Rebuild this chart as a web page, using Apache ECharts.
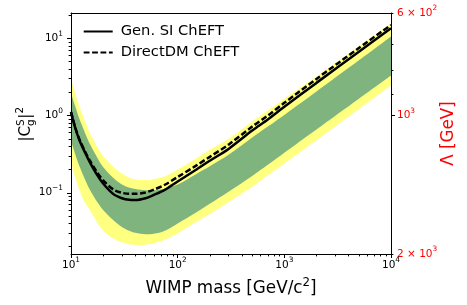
<!DOCTYPE html>
<html><head><meta charset="utf-8">
<script src="https://cdn.jsdelivr.net/npm/echarts@6/dist/echarts.min.js"></script>
<style>html,body{margin:0;padding:0;background:#fff}#c{width:467px;height:305px}</style>
</head><body><div id="c"></div>
<script>
// ---- data ----
const massGeV      = [10, 11, 12, 13.5, 15, 17.5, 20, 25, 30, 35, 40, 50, 60, 75, 100, 150, 200, 300, 500, 700, 1000, 2000, 5000, 10000];
const genSI        = [1.1, 0.68, 0.48, 0.335, 0.25, 0.172, 0.132, 0.096, 0.085, 0.081, 0.0805, 0.085, 0.094, 0.108, 0.14, 0.2, 0.26, 0.37, 0.64, 0.89, 1.3, 2.65, 6.7, 13.5];
const directDM     = [1.12, 0.69, 0.49, 0.345, 0.262, 0.185, 0.145, 0.11, 0.1, 0.097, 0.097, 0.101, 0.11, 0.126, 0.16, 0.226, 0.292, 0.42, 0.72, 1.0, 1.46, 2.98, 7.5, 14.9];
const yellowTop    = [3.0, 1.9, 1.3, 0.85, 0.6, 0.4, 0.3, 0.215, 0.178, 0.158, 0.148, 0.146, 0.15, 0.162, 0.2, 0.28, 0.36, 0.5, 0.84, 1.16, 1.65, 3.2, 7.9, 15.6];
const greenTop     = [1.95, 1.3, 0.9, 0.6, 0.43, 0.29, 0.215, 0.155, 0.128, 0.117, 0.112, 0.108, 0.108, 0.113, 0.128, 0.175, 0.22, 0.31, 0.52, 0.72, 1.02, 2.05, 5.2, 10.6];
const greenBottom  = [0.47, 0.31, 0.22, 0.15, 0.11, 0.077, 0.06, 0.044, 0.036, 0.0322, 0.0303, 0.029, 0.0295, 0.032, 0.04, 0.056, 0.072, 0.103, 0.165, 0.23, 0.33, 0.66, 1.65, 3.3];
const yellowBottom = [0.25, 0.155, 0.108, 0.074, 0.06, 0.042, 0.032, 0.0255, 0.0228, 0.0215, 0.0211, 0.0212, 0.0222, 0.0245, 0.03, 0.042, 0.053, 0.076, 0.12, 0.168, 0.24, 0.48, 1.22, 2.46];

const xMajorTicks = [10, 100, 1000, 10000];
const xMinorTicks = [20,30,40,50,60,70,80,90,200,300,400,500,600,700,800,900,2000,3000,4000,5000,6000,7000,8000,9000];
const yMajorTicks = [0.1, 1, 10];
const yMinorTicks = [0.02,0.03,0.04,0.05,0.06,0.07,0.08,0.09,0.2,0.3,0.4,0.5,0.6,0.7,0.8,0.9,2,3,4,5,6,7,8,9,20];
const lambdaMajorTicks = [1000];
const lambdaMinorTicks = [600, 700, 800, 900, 2000];
const lambdaLabels = [600, 1000, 2000];

const xRange = [10, 10000];
const yRange = [0.0161, 21.3];
const lambdaRange = [600, 2000];

// ---- chart ----
const FONT = 'DejaVu Sans';
const lg = Math.log10;
const pts = arr => massGeV.map((m, i) => [lg(m), lg(arr[i])]);
const sup = (c) => ({ sup: { fontSize: 7.4, fontFamily: FONT, color: c, padding: [0, 0, 9, 0] } });
const tickStyle = { color: '#000', width: 1 };
const pow = v => { const e = Math.round(v); return '10{sup|' + (e < 0 ? '\u2212' + (-e) : e) + '}'; };

function hiddenAxis(extra) {
  return Object.assign({
    type: 'value', axisLine: { show: false, onZero: false }, axisLabel: { show: false },
    axisTick: { show: false }, splitLine: { show: false }, offset: 0
  }, extra);
}
function fillSeries(name, arr, color) {
  return { type: 'line', name: name, data: pts(arr), symbol: 'none', smooth: 0.3, silent: true,
           lineStyle: { width: 0, opacity: 0 }, areaStyle: { color: color, opacity: 1, origin: 'start' } };
}

const chart = echarts.init(document.getElementById('c'), null, { renderer: 'canvas' });
chart.setOption({
  animation: false,
  backgroundColor: '#fff',
  grid: { left: 71, top: 13, right: 76, bottom: 51, containLabel: false, outerBoundsMode: 'none' },
  xAxis: [
    { type: 'value', min: lg(xRange[0]), max: lg(xRange[1]), position: 'bottom', offset: 0,
      axisLine: { show: true, onZero: false, lineStyle: tickStyle },
      axisTick: { show: true, inside: false, length: 4, lineStyle: tickStyle, customValues: xMajorTicks.map(lg) },
      axisLabel: { show: true, customValues: xMajorTicks.map(lg), formatter: pow, margin: 3,
                   color: '#000', fontSize: 10.5, fontFamily: FONT, rich: sup('#000') },
      splitLine: { show: false }, z: 10 },
    hiddenAxis({ min: lg(xRange[0]), max: lg(xRange[1]), position: 'bottom',
      axisTick: { show: true, inside: false, length: 2.4, lineStyle: tickStyle, customValues: xMinorTicks.map(lg) } }),
    hiddenAxis({ min: lg(xRange[0]), max: lg(xRange[1]), position: 'top', z: 10,
      axisLine: { show: true, onZero: false, lineStyle: tickStyle } })
  ],
  yAxis: [
    { type: 'value', min: lg(yRange[0]), max: lg(yRange[1]), position: 'left', offset: 0,
      axisLine: { show: true, onZero: false, lineStyle: tickStyle },
      axisTick: { show: true, inside: false, length: 4, lineStyle: tickStyle, customValues: yMajorTicks.map(lg) },
      axisLabel: { show: true, customValues: yMajorTicks.map(lg), formatter: pow, margin: 8,
                   color: '#000', fontSize: 10.5, fontFamily: FONT, rich: sup('#000') },
      splitLine: { show: false }, z: 10 },
    hiddenAxis({ min: lg(yRange[0]), max: lg(yRange[1]), position: 'left',
      axisTick: { show: true, inside: false, length: 2.4, lineStyle: tickStyle, customValues: yMinorTicks.map(lg) } }),
    { type: 'value', min: lg(lambdaRange[0]), max: lg(lambdaRange[1]), inverse: true, position: 'right', offset: 0,
      axisLine: { show: true, onZero: false, lineStyle: tickStyle },
      axisTick: { show: true, inside: false, length: 4, lineStyle: tickStyle, customValues: lambdaMajorTicks.map(lg) },
      axisLabel: { show: true, customValues: lambdaLabels.map(lg), margin: 6,
                   formatter: v => { const n = Math.round(Math.pow(10, v)); const e = Math.floor(lg(n) + 1e-9);
                     const m = Math.round(n / Math.pow(10, e)); return (m === 1 ? '' : m + ' \u00d7 ') + '10{sup|' + e + '}'; },
                   color: '#ff0000', fontSize: 10.5, fontFamily: FONT, rich: sup('#ff0000') },
      splitLine: { show: false }, z: 10 },
    hiddenAxis({ min: lg(lambdaRange[0]), max: lg(lambdaRange[1]), inverse: true, position: 'right',
      axisTick: { show: true, inside: false, length: 2.4, lineStyle: tickStyle, customValues: lambdaMinorTicks.map(lg) } })
  ],
  legend: {
    orient: 'vertical', left: 82.7, top: 24, padding: 0, itemWidth: 29, itemHeight: 14, itemGap: 6,
    data: ['Gen. SI ChEFT', 'DirectDM ChEFT'],
    itemStyle: { opacity: 0 },
    textStyle: { fontSize: 14.7, fontFamily: FONT, color: '#000', padding: [0, 0, 0, 3] },
    selectedMode: false
  },
  series: [
    fillSeries('yellowTop', yellowTop, '#ffff80'),
    fillSeries('greenTop', greenTop, '#7fb47f'),
    fillSeries('greenBottom', greenBottom, '#ffff80'),
    fillSeries('yellowBottom', yellowBottom, '#ffffff'),
    { type: 'line', name: 'Gen. SI ChEFT', data: pts(genSI), symbol: 'none', smooth: 0.3,
      lineStyle: { color: '#000', width: 2.5 }, itemStyle: { color: '#000' } },
    { type: 'line', name: 'DirectDM ChEFT', data: pts(directDM), symbol: 'none', smooth: 0.3,
      lineStyle: { color: '#000', width: 2.5, type: [5.8, 2.6] }, itemStyle: { color: '#000' } }
  ],
  graphic: [
    { type: 'group', x: 26, y: 124, rotation: Math.PI / 2, children: [
      { type: 'text', x: -17.5, y: 0, style: { text: '|C', fill: '#000', fontSize: 15, fontFamily: FONT, align: 'left', verticalAlign: 'middle' } },
      { type: 'text', x: -2, y: -5, style: { text: 'S', fill: '#000', fontSize: 10.5, fontFamily: FONT, align: 'left', verticalAlign: 'middle' } },
      { type: 'text', x: -2, y: 5, style: { text: 'g', fill: '#000', fontSize: 10.5, fontFamily: FONT, align: 'left', verticalAlign: 'middle' } },
      { type: 'text', x: 5.2, y: 0, style: { text: '|', fill: '#000', fontSize: 15, fontFamily: FONT, align: 'left', verticalAlign: 'middle' } },
      { type: 'text', x: 10.5, y: -6, style: { text: '2', fill: '#000', fontSize: 10.5, fontFamily: FONT, align: 'left', verticalAlign: 'middle' } }
    ] },
    { type: 'text', x: 231, y: 288.5, style: { text: 'WIMP mass [GeV/c{sup|2}]', fill: '#000', fontSize: 16.8, fontFamily: FONT,
      align: 'center', verticalAlign: 'middle', rich: { sup: { fontSize: 11.8, fontFamily: FONT, fill: '#000', padding: [0, 0, 12, 0] } } } },
    { type: 'text', x: 449, y: 133.5, rotation: Math.PI / 2, style: { text: '\u039b [GeV]', fill: '#ff0000', fontSize: 16.8, fontFamily: FONT,
      align: 'center', verticalAlign: 'middle' } }
  ]
});
</script></body></html>
